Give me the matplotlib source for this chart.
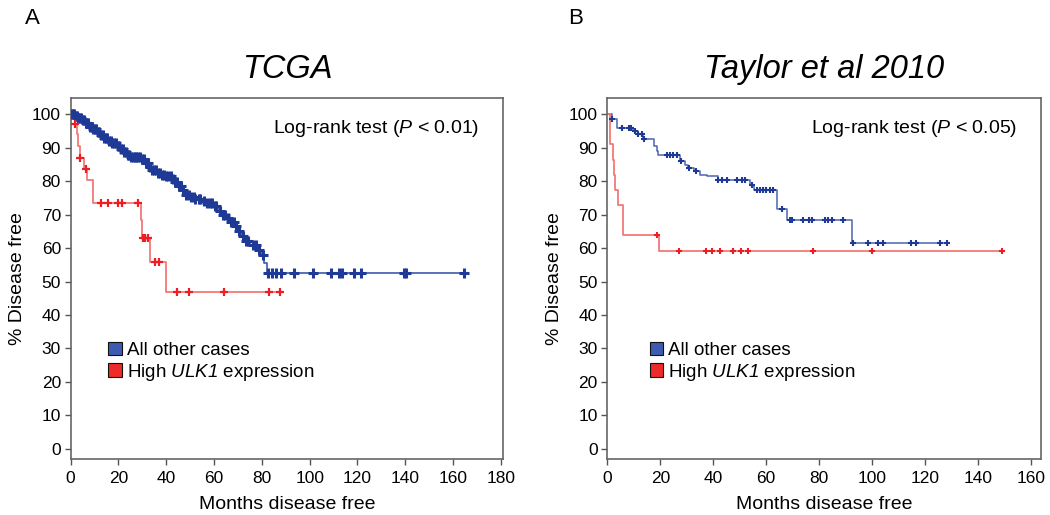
import numpy as np
import matplotlib
matplotlib.use("Agg")
import matplotlib.pyplot as plt
from matplotlib.patches import Patch

plt.rcParams['font.family'] = ['Liberation Sans', 'DejaVu Sans']
plt.rcParams['mathtext.fontset'] = 'custom'
plt.rcParams['mathtext.rm'] = 'Liberation Sans:italic'
plt.rcParams['mathtext.it'] = 'Liberation Sans:italic'

# ---------------- Panel A: TCGA ----------------
a_blue_t = [0, 1.5, 3, 4.5, 6, 7.5, 9, 11, 12.5, 14, 15.5, 17, 19, 20.5, 22, 23.5, 25,
            29.5, 31, 32.5, 34, 36, 38, 40, 42, 43.5, 45, 46.5, 48, 50, 52, 55, 57, 60,
            62, 63.5, 65, 67, 68.5, 70, 71.5, 73, 75, 78, 79.5, 81, 82]
a_blue_s = [100, 99.5, 99, 98.2, 97.3, 96.3, 95.6, 94.8, 93.8, 92.8, 92, 91.3, 90.5, 89.7,
            88.8, 87.8, 87.2, 86.6, 85.5, 84.2, 83.3, 82.5, 82, 81.5, 80.8, 79.7, 78.5,
            77.3, 76, 75.4, 74.7, 74.2, 73.5, 72.5, 71.2, 70, 69, 67.8, 66.5, 65.2, 63.5,
            62, 60.8, 59.5, 58, 55.5, 52.6]
a_blue_end = 164.6
a_blue_cens = [0.4, 0.9, 1.3, 2.1, 2.6, 3.2, 3.8, 4.3, 5.0, 5.6, 6.3, 6.9, 7.4, 8.2, 8.8,
               9.5, 10.1, 10.8, 11.5, 12.0, 12.8, 13.4, 14.1, 14.7, 15.3, 16.0, 16.8, 17.5,
               18.2, 18.9, 19.6, 20.3, 21.0, 21.7, 22.5, 23.2, 24.0, 24.6, 25.4, 26.1, 26.8,
               27.5, 28.3, 29.0, 29.8, 30.6, 31.5, 32.3, 33.2, 34.0, 34.8, 35.7, 36.5, 37.4,
               38.3, 39.1, 40.0, 40.9, 41.8, 42.7, 43.6, 44.5, 45.4, 46.3, 47.2, 48.3, 49.4,
               50.3, 51.5, 52.2, 53.6, 54.1, 55.8, 57.0, 58.2, 59.0, 60.3, 61.0, 62.5, 63.8,
               64.6, 66.0, 67.2, 68.3, 69.1, 70.4, 72.2, 73.5, 74.1, 76.4, 77.6, 78.8, 80.6,
               82.4, 84.3, 86.0, 88.0, 93.6, 101.2, 108.9, 112.3, 113.7, 118.6, 121.4,
               139.5, 140.5, 164.6]

a_red_t = [0, 1.7, 2.5, 3.2, 4.0, 5.5, 7.0, 9.3, 29.5, 30.0, 33.0, 39.7]
a_red_s = [100, 97, 94, 90.5, 87.1, 83.8, 80.3, 73.4, 68.3, 62.9, 55.9, 46.8]
a_red_end = 87.7
a_red_cens = [1.7, 4.0, 6.3, 12.8, 15.6, 19.8, 21.4, 28.1, 30.2, 31.3, 32.4, 35.1, 36.8,
              44.6, 49.7, 64.3, 83.1, 87.7]

# ---------------- Panel B: Taylor et al 2010 ----------------
b_blue_t = [0, 1.6, 3.5, 9.6, 11.7, 13.6, 17.8, 18.6, 19.3, 27.4, 29.3, 30.6, 32.6, 35,
            37.5, 41.9, 53.9, 55.4, 64, 67.7, 92.6]
b_blue_s = [100, 98.5, 96, 95, 94, 92.5, 90.5, 89, 88, 86, 85, 84, 83, 82, 81.5, 80.5,
            79, 77.5, 71.7, 68.4, 61.5]
b_blue_end = 128.2
b_blue_cens = [1.8, 5.4, 8.3, 8.8, 10.4, 11.7, 13.0, 13.8, 22.4, 23.7, 24.7, 26.2, 28.0,
               31.0, 33.5, 41.9, 43.2, 45.1, 48.8, 50.7, 52.0, 54.6, 56.4, 57.6, 58.9, 60.1,
               61.4, 62.4, 65.9, 68.9, 69.9, 73.8, 76.3, 77.2, 82.2, 83.4, 84.9, 89.1, 92.9,
               98.3, 102.1, 104.0, 114.7, 116.6, 125.6, 128.2]

b_red_t = [0, 1.0, 2.0, 2.5, 2.9, 4.2, 5.8, 19.4]
b_red_s = [100, 91, 86.5, 82, 77.5, 73, 64, 59.0]
b_red_end = 148.9
b_red_cens = [18.9, 27.0, 37.2, 39.5, 42.5, 47.4, 50.4, 53.2, 77.8, 99.8, 148.9]

BLUE_LINE = '#4a66b3'
BLUE_MARK = '#1f3a96'
RED_LINE = '#f27a78'
RED_MARK = '#ee1d23'


def draw_km(ax, t, s, end, cens, lc, mc, lw, ms, mew):
    tt = list(t) + [end]
    ss = list(s) + [s[-1]]
    ax.step(tt, ss, where='post', color=lc, lw=lw, zorder=2)
    ct = np.array(cens)
    idx = np.searchsorted(np.array(t), ct, side='right') - 1
    cs = np.array(s)[idx]
    ax.plot(ct, cs, linestyle='none', marker='+', color=mc, ms=ms, mew=mew, zorder=3)


fig = plt.figure(figsize=(10.5, 5.15), dpi=100)
axA = fig.add_axes([0.0673, 0.1093, 0.412, 0.701])
axB = fig.add_axes([0.5784, 0.1093, 0.413, 0.701])

draw_km(axA, a_blue_t, a_blue_s, a_blue_end, a_blue_cens, BLUE_LINE, BLUE_MARK, 1.3, 6.5, 2.2)
draw_km(axA, a_red_t, a_red_s, a_red_end, a_red_cens, RED_LINE, RED_MARK, 1.3, 5.5, 1.6)
draw_km(axB, b_blue_t, b_blue_s, b_blue_end, b_blue_cens, BLUE_LINE, BLUE_MARK, 1.1, 5, 1.5)
draw_km(axB, b_red_t, b_red_s, b_red_end, b_red_cens, RED_LINE, RED_MARK, 1.3, 5, 1.5)

for ax, xmax, xt, title, ptxt, letter, legx, letx in [
        (axA, 181, np.arange(0, 181, 20), 'TCGA', r'Log-rank test ($P$ < 0.01)', 'A', 0.07, 0.024),
        (axB, 163.8, np.arange(0, 161, 20), 'Taylor et al 2010', r'Log-rank test ($P$ < 0.05)', 'B', 0.08, 0.541)]:
    ax.set_xlim(0, xmax)
    ax.set_ylim(-3, 105)
    ax.set_xticks(xt)
    ax.set_yticks(np.arange(0, 101, 10))
    ax.tick_params(direction='out', length=4, width=1, color='#555555', labelsize=12.5, pad=3)
    ax.tick_params(axis='x', pad=5)
    for sp in ax.spines.values():
        sp.set_color('#666666')
        sp.set_linewidth(1.2)
    ax.set_xlabel('Months disease free', fontsize=14, labelpad=7)
    ax.set_ylabel('% Disease free', fontsize=14, labelpad=4)
    ax.set_title(title, fontsize=23.5, style='italic', pad=14)
    ax.text(0.945, 0.915, ptxt, transform=ax.transAxes, ha='right', va='center', fontsize=14)
    handles = [Patch(facecolor='#3d5bb0', edgecolor='#111111', lw=0.8),
               Patch(facecolor='#ee2a2a', edgecolor='#111111', lw=0.8)]
    ax.legend(handles, ['All other cases', r'High $ULK1$ expression'],
              loc='upper left', bbox_to_anchor=(legx, 0.345), frameon=False,
              handlelength=0.7, handleheight=0.7, handletextpad=0.3, labelspacing=0.15,
              fontsize=13.5, borderaxespad=0)
    fig.text(letx, 0.965, letter, fontsize=16, ha='left', va='center')

fig.savefig('out.png', dpi=100)
